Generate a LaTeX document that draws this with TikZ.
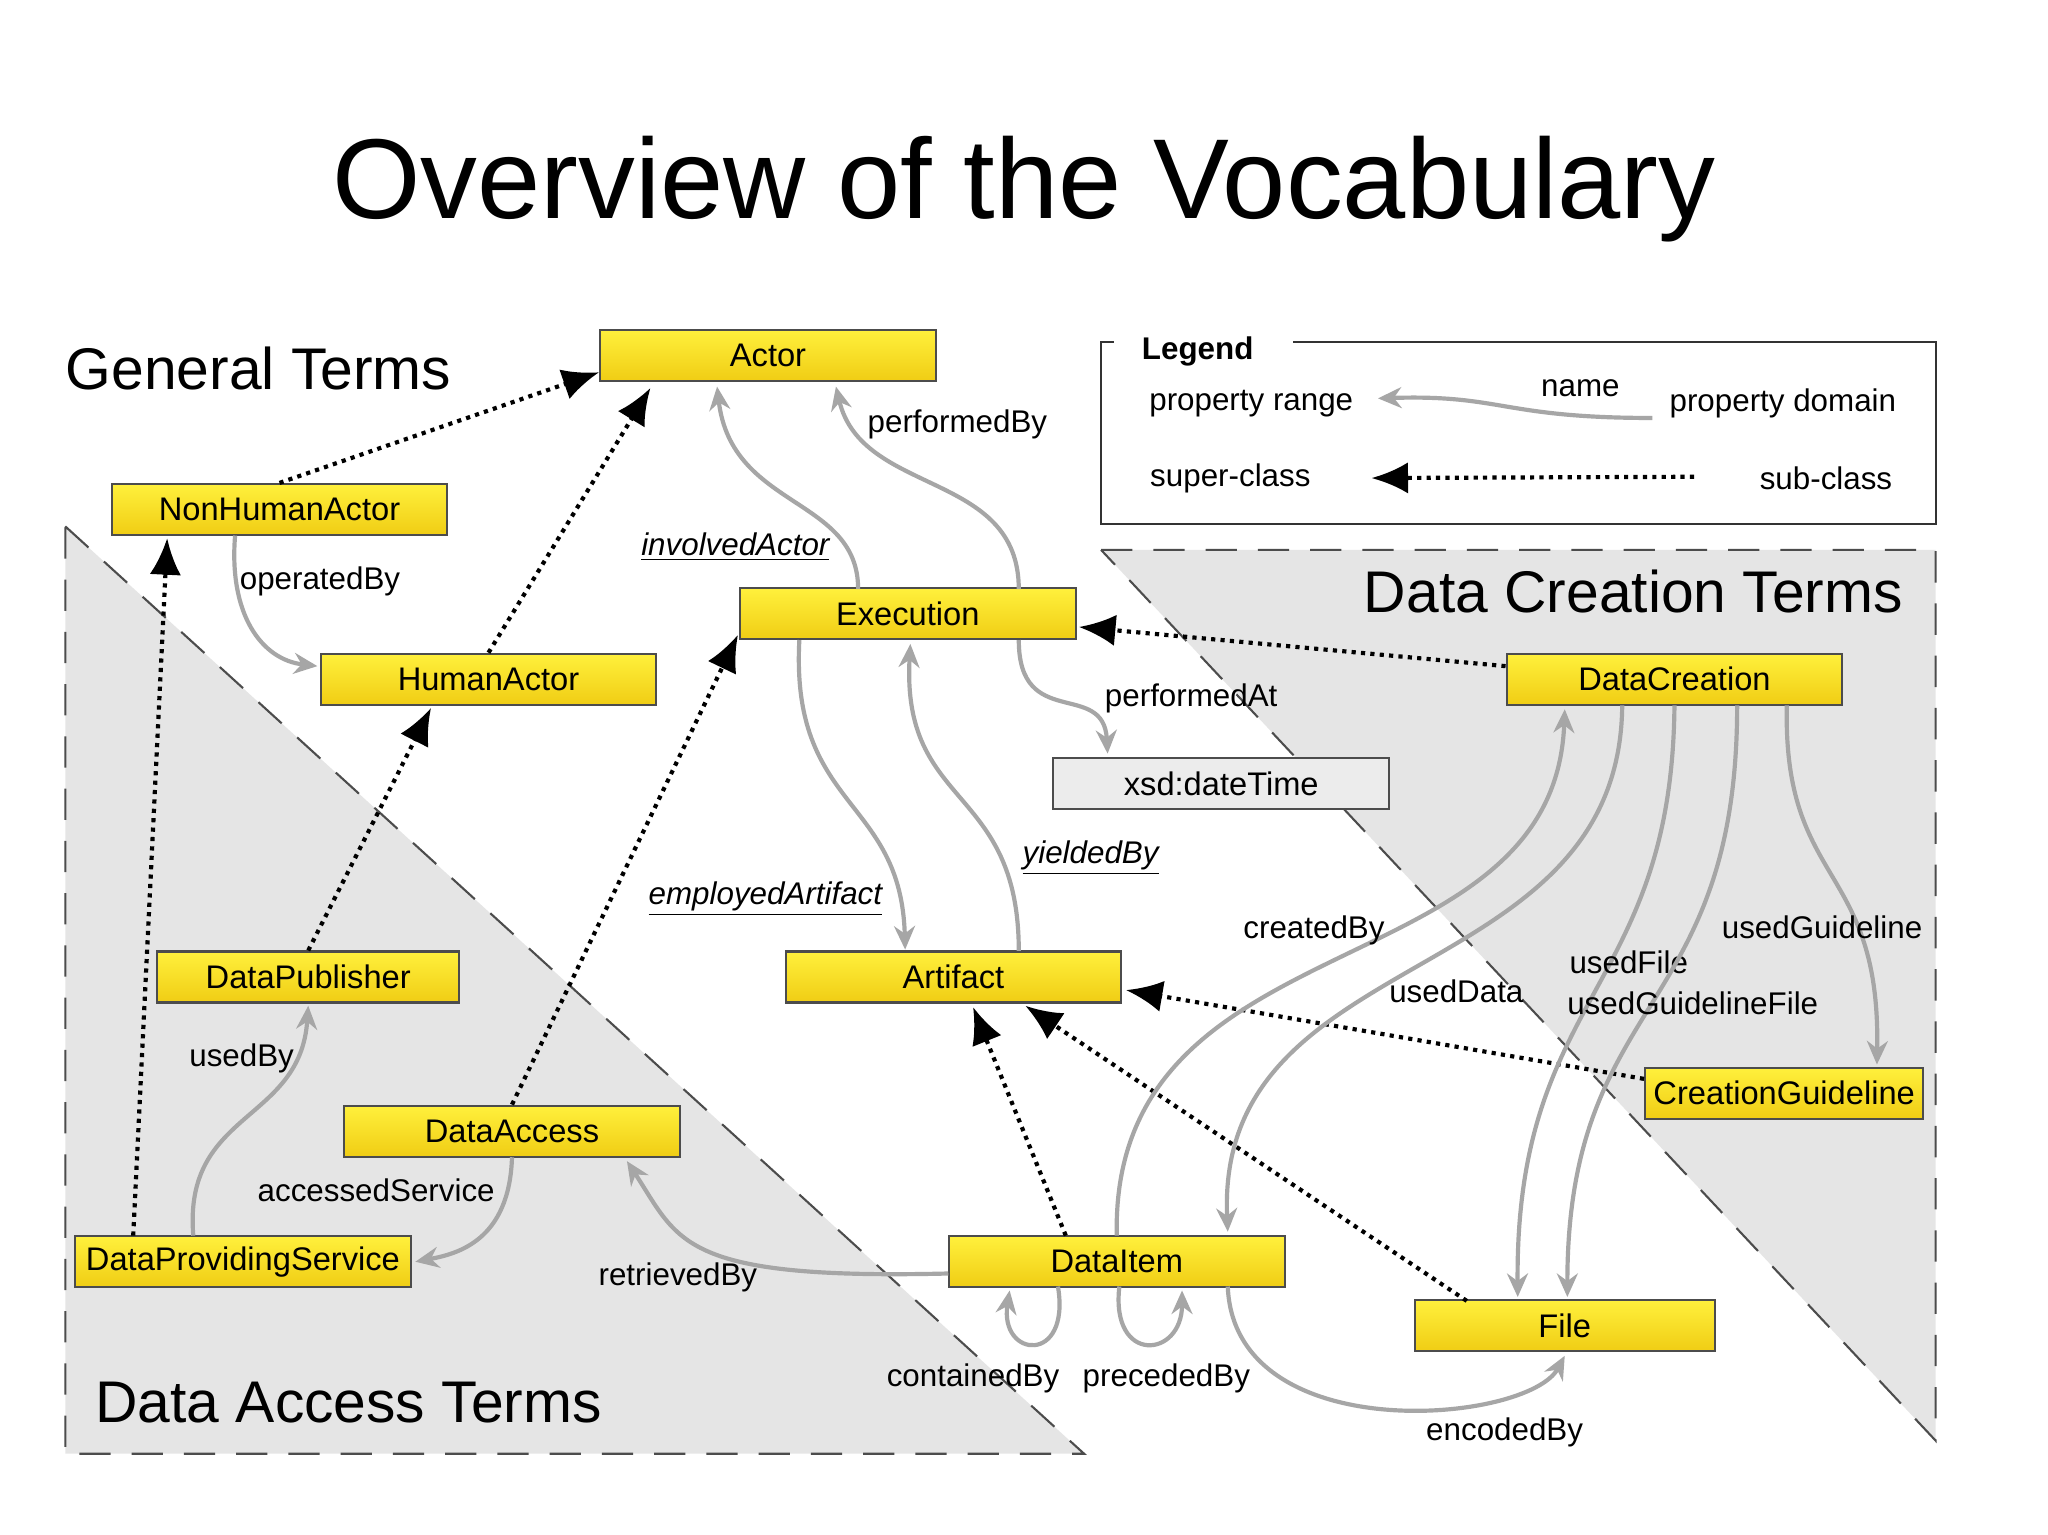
\documentclass[tikz,border=0pt]{standalone}
\usepackage{fontspec}
\setmainfont{Liberation Sans}
\usetikzlibrary{arrows.meta}
\begin{document}
\begin{tikzpicture}[x=0.5pt,y=-0.5pt,
 box/.style={draw=gray!60!black,line width=0.8pt,minimum width=257*0.5pt,minimum height=39*0.5pt,inner sep=0pt,font=\fontsize{12.5}{14}\selectfont,top color={rgb,255:red,255;green,240;blue,60},bottom color={rgb,255:red,240;green,205;blue,20}},
 gbox/.style={box,top color=gray!15,bottom color=gray!15},
 rel/.style={draw=gray!70,line width=1.6pt,-{Stealth[length=9pt,width=8pt]}},
 sub/.style={draw=black,line width=1.6pt,dotted,-{Latex[length=14pt,width=12pt]}},
 lbl/.style={font=\fontsize{12}{14}\selectfont,inner sep=1pt},
 ilbl/.style={lbl,font=\fontsize{12}{14}\selectfont\itshape},
 region/.style={font=\fontsize{22.5}{26}\selectfont},
 reg/.style={fill=gray!20,draw=black!70,line width=0.8pt,dash pattern=on 12pt off 8pt}]
\useasboundingbox (0,0) rectangle (1568,1175);
\fill[white] (0,0) rectangle (1568,1175);
% regions
\path[reg] (50,403) -- (830,1113) -- (50,1113) -- cycle;
\path[reg] (843,421) -- (1482,421) -- (1482,1103) -- cycle;
% title
\node[font=\fontsize{43.5}{50}\selectfont] (title) at (784,145) {Overview of the Vocabulary};
\node[region] (gt) at (198,282) {General Terms};
\node[region,anchor=east] (dct) at (1464,453) {Data Creation Terms};
\node[region,anchor=west] (dat) at (66,1074) {Data Access Terms};
% legend
\draw[line width=0.8pt,black!80] (990,262) -- (1482,262) -- (1482,401) -- (843,401) -- (843,262) -- (853,262);
\node[lbl,font=\fontsize{12}{14}\selectfont\bfseries] (leg) at (917,269) {Legend};
\node[lbl] (lpr) at (958,309) {property range};
\node[lbl] (lpd) at (1365,309) {property domain};
\node[lbl] (lname) at (1210,297) {name};
\node[lbl] (lsup) at (942,366) {super-class};
\node[lbl] (lsub) at (1398,366) {sub-class};
\coordinate (la1) at (1265,320); \coordinate (la2) at (1055,305);
\draw[rel] (la1) .. controls (1150,320) and (1150,302) .. (la2);
\coordinate (ls1) at (1297,365); \coordinate (ls2) at (1050,366);
\draw[sub] (ls1) -- (ls2);
% boxes
\node[box] (actor) at (588,272) {Actor};
\node[box] (nha) at (214,390) {NonHumanActor};
\node[box] (ha) at (374,520) {HumanActor};
\node[box] (exec) at (695,470) {Execution};
\node[box] (dc) at (1282,520) {DataCreation};
\node[gbox] (xsd) at (935,600) {xsd:dateTime};
\node[box] (art) at (730,748) {Artifact};
\node[box,minimum width=231*0.5pt] (dp) at (236,748) {DataPublisher};
\node[box,minimum width=213*0.5pt] (cg) at (1366,837) {CreationGuideline};
\node[box] (da) at (392,866) {DataAccess};
\node[box] (dps) at (186,966) {DataProvidingService};
\node[box] (di) at (855,966) {DataItem};
\node[box,minimum width=230*0.5pt] (file) at (1198,1015) {File};
% subclass
\draw[sub] (nha.north) -- (actor.west |- 0,285);
\draw[sub] (ha.north) -- (498,297);
\draw[sub] (102,946) -- (128,412);
\draw[sub] (dp.north) -- (330,542);
\draw[sub] (da.north) -- (565,486);
\draw[sub] (dc.west |- 0,510) -- (826,480);
\draw[sub] (cg.west |- 0,826) -- (862,758);
\draw[sub] (816,946) -- (745,771);
\draw[sub] (1123,996) -- (785,770);
% relations
\draw[rel] (657,451) .. controls (657,380) and (560,390) .. (549,296);
\node[ilbl] (linv) at (563,419) {\underline{involvedActor}};
\draw[rel] (780,451) .. controls (780,360) and (660,380) .. (640,296);
\node[lbl] (lpb) at (733,325) {performedBy};
\draw[rel] (180,410) .. controls (175,470) and (200,505) .. (243,510);
\node[lbl] (lop) at (245,445) {operatedBy};
\draw[rel] (780,490) .. controls (780,560) and (845,520) .. (848,577);
\node[lbl] (lpa) at (912,535) {performedAt};
\draw[rel] (612,490) .. controls (605,620) and (690,610) .. (693,727);
\node[ilbl] (lea) at (586,688) {\underline{employedArtifact}};
\draw[rel] (780,728) .. controls (780,600) and (690,620) .. (697,493);
\node[ilbl] (lyb) at (835,657) {\underline{yieldedBy}};
\draw[rel] (855,946) .. controls (850,700) and (1190,760) .. (1198,543);
\node[lbl] (lcb) at (1006,712) {createdBy};
\draw[rel] (1242,540) .. controls (1240,760) and (930,720) .. (940,943);
\node[lbl] (lud) at (1115,759) {usedData};
\draw[rel] (1282,540) .. controls (1280,760) and (1160,760) .. (1162,993);
\node[lbl] (luf) at (1247,737) {usedFile};
\draw[rel] (1330,540) .. controls (1330,780) and (1200,760) .. (1200,993);
\node[lbl] (lugf) at (1296,768) {usedGuidelineFile};
\draw[rel] (1368,540) .. controls (1365,680) and (1440,660) .. (1437,815);
\node[lbl] (lug) at (1395,710) {usedGuideline};
\draw[rel] (148,946) .. controls (140,850) and (230,860) .. (236,770);
\node[lbl] (lub) at (185,810) {usedBy};
\draw[rel] (392,886) .. controls (390,950) and (350,960) .. (318,966);
\node[lbl] (las) at (288,911) {accessedService};
\draw[rel] (726,975) .. controls (520,980) and (520,950) .. (480,889);
\node[lbl] (lrb) at (519,978) {retrievedBy};
\draw[rel] (810,985) .. controls (820,1045) and (765,1040) .. (773,988);
\node[lbl] (lcont) at (745,1055) {containedBy};
\draw[rel] (857,985) .. controls (850,1045) and (905,1040) .. (905,988);
\node[lbl] (lpre) at (893,1055) {precededBy};
\draw[rel] (940,985) .. controls (945,1110) and (1170,1090) .. (1198,1038);
\node[lbl] (lenc) at (1152,1097) {encodedBy};
\end{tikzpicture}
\end{document}
